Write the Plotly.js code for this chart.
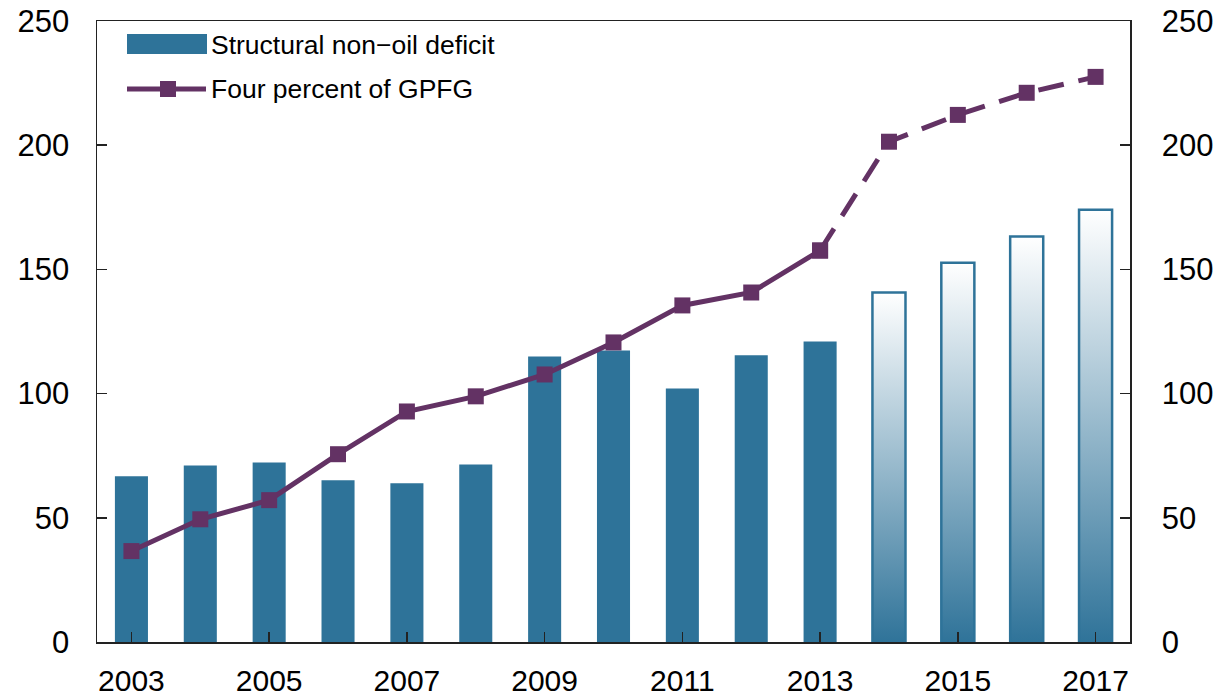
<!DOCTYPE html>
<html>
<head>
<meta charset="utf-8">
<script src="https://cdn.plot.ly/plotly-3.0.1.min.js"></script>
<style>html,body{margin:0;padding:0;background:#fff;}#chart{width:1219px;height:700px;}</style>
</head>
<body>
<div id="chart"></div>
<script>
// ---- data ----
const years = [2003,2004,2005,2006,2007,2008,2009,2010,2011,2012,2013,2014,2015,2016,2017];
const deficit = [66.7,71.1,72.3,65.1,63.9,71.5,114.9,117.4,102.1,115.4,121.0,140.7,152.7,163.2,174.0];
const gpfg4 = [36.6,49.4,57.1,75.6,92.8,98.9,107.7,120.6,135.5,140.7,157.6,201.4,212.2,221.1,227.5];
const lastActualYear = 2013;
const xTickVals = [2003,2005,2007,2009,2011,2013,2015,2017];
const yTickVals = [0,50,100,150,200,250];
const seriesNames = ['Structural non\u2212oil deficit','Four percent of GPFG'];

// ---- styles ----
const BLUE = '#2e7399';
const PURPLE = '#633264';
const FONT = 'Liberation Sans, Arial, Helvetica, sans-serif';
const BARW = 0.48;

const actIdx = years.map((y,i)=>i).filter(i=>years[i]<=lastActualYear);
const fcIdx = years.map((y,i)=>i).filter(i=>years[i]>lastActualYear);

const traces = [];
traces.push({
  type:'bar', x: actIdx.map(i=>years[i]), y: actIdx.map(i=>deficit[i]),
  width: BARW, marker:{color:BLUE, line:{width:0}}, showlegend:false, hoverinfo:'x+y'
});
// forecast bars: gradient filled rectangles built from the data
fcIdx.forEach(i=>{
  const x0 = years[i]-BARW/2, x1 = years[i]+BARW/2, v = deficit[i];
  traces.push({
    type:'scatter', mode:'lines', x:[x0,x1,x1,x0,x0], y:[0,0,v,v,0],
    fill:'toself',
    fillgradient:{type:'vertical', colorscale:[[0,'#2f7399'],[1,'#ffffff']]},
    line:{color:BLUE, width:2.5}, showlegend:false, hoverinfo:'skip'
  });
});
const solidIdx = years.map((y,i)=>i).filter(i=>years[i]<=lastActualYear);
const dashIdx = years.map((y,i)=>i).filter(i=>years[i]>=lastActualYear);
traces.push({
  type:'scatter', mode:'lines+markers', yaxis:'y2',
  x: solidIdx.map(i=>years[i]), y: solidIdx.map(i=>gpfg4[i]),
  line:{color:PURPLE, width:5}, marker:{symbol:'square', size:16, color:PURPLE},
  showlegend:false
});
traces.push({
  type:'scatter', mode:'lines+markers', yaxis:'y2',
  x: dashIdx.map(i=>years[i]), y: dashIdx.map(i=>gpfg4[i]),
  line:{color:PURPLE, width:5, dash:'26px,15px'}, marker:{symbol:'square', size:16, color:PURPLE},
  showlegend:false
});

// legend helpers (pixel -> paper)
const L=97, R=1130, T=21, B=642;
const px = v => (v-L)/(R-L);
const py = v => (B-v)/(B-T);

const axisCommon = {
  range:[0,250], tickvals:yTickVals, ticks:'inside', ticklen:10, tickwidth:1.5, tickcolor:'#222',
  showline:true, linecolor:'#222', linewidth:1.5, showgrid:false, zeroline:false,
  tickfont:{family:FONT, size:31, color:'#000'}, fixedrange:true
};

const layout = {
  width:1219, height:700,
  margin:{l:L, r:1219-R, t:T, b:700-B},
  paper_bgcolor:'#fff', plot_bgcolor:'#fff',
  showlegend:false,
  xaxis:{
    range:[2002.5,2017.5], tickvals:xTickVals, ticks:'inside', ticklen:10, tickwidth:1.5, tickcolor:'#222',
    showline:true, mirror:true, linecolor:'#222', linewidth:1.5, showgrid:false, zeroline:false,
    tickfont:{family:FONT, size:30, color:'#000'}, ticklabelstandoff:11
  },
  yaxis: Object.assign({side:'left', ticklabelstandoff:20}, axisCommon),
  yaxis2: Object.assign({side:'right', overlaying:'y', ticklabelstandoff:24}, axisCommon),
  shapes:[
    {type:'rect', xref:'paper', yref:'paper', x0:px(127), x1:px(207), y0:py(54), y1:py(34),
     fillcolor:BLUE, line:{width:0}},
    {type:'line', xref:'paper', yref:'paper', x0:px(127), x1:px(206), y0:py(89), y1:py(89),
     line:{color:PURPLE, width:5}},
    {type:'rect', xref:'paper', yref:'paper', x0:px(160), x1:px(176), y0:py(97), y1:py(81),
     fillcolor:PURPLE, line:{width:0}}
  ],
  annotations:[
    {xref:'paper', yref:'paper', x:px(209), y:py(45), xanchor:'left', yanchor:'middle', showarrow:false,
     text:seriesNames[0], font:{family:FONT, size:26.5, color:'#000'}},
    {xref:'paper', yref:'paper', x:px(209), y:py(89), xanchor:'left', yanchor:'middle', showarrow:false,
     text:seriesNames[1], font:{family:FONT, size:26.5, color:'#000'}}
  ]
};

Plotly.newPlot('chart', traces, layout, {displayModeBar:false, staticPlot:true});
</script>
</body>
</html>
